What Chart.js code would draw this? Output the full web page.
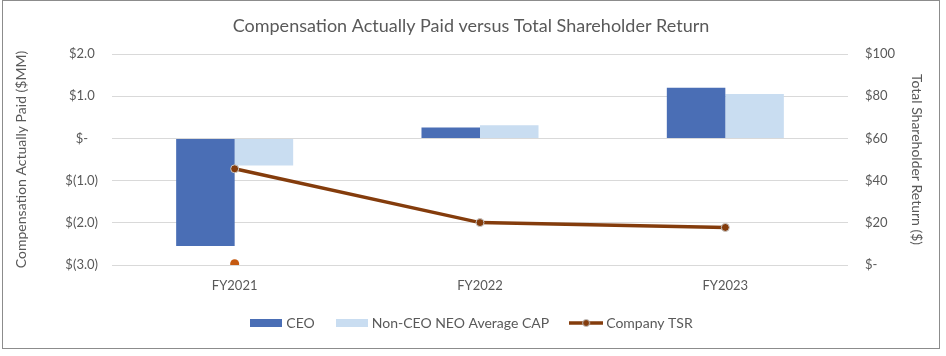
<!DOCTYPE html>
<html>
<head>
<meta charset="utf-8">
<script src="https://cdn.jsdelivr.net/npm/chart.js@4.4.1/dist/chart.umd.min.js"></script>
<style>
  html, body { margin: 0; padding: 0; background: #ffffff; }
  #wrap { position: relative; width: 946px; height: 356px; }
  #frame { position: absolute; left: 2px; top: 0px; width: 936px; height: 347px; border: 1px solid #8c8c8c; pointer-events: none; }
  canvas { position: absolute; left: 0; top: 0; }
</style>
</head>
<body>
<div id="wrap">
  <canvas id="c" width="946" height="356"></canvas>
  <div id="frame"></div>
</div>
<script>
const categories = ["FY2021", "FY2022", "FY2023"];
const ceoCap = [-2.55, 0.26, 1.20];
const nonCeoCap = [-0.64, 0.31, 1.05];
const companyTsr = [45.6, 20.1, 17.8];
const strayTsrPoint = [0.6, null, null];
const leftTicks = [2, 1, 0, -1, -2, -3];
const rightTicks = [100, 80, 60, 40, 20, 0];

const FONT = "Lato, 'Open Sans', sans-serif";
const TXT = "#595959";

function fmtLeft(v) {
  if (Math.abs(v) < 1e-9) return "$-   ";
  if (v < 0) return "$(" + Math.abs(v).toFixed(1) + ")";
  return "$" + v.toFixed(1) + " ";
}
function fmtRight(v) {
  if (Math.abs(v) < 1e-9) return "$-";
  return "$" + v.toFixed(0);
}

function boxImg(color) {
  const c = document.createElement("canvas");
  c.width = 32; c.height = 8;
  const x = c.getContext("2d");
  x.fillStyle = color; x.fillRect(0, 0, 32, 8);
  return c;
}
function lineImg() {
  const c = document.createElement("canvas");
  c.width = 34; c.height = 10;
  const x = c.getContext("2d");
  x.strokeStyle = "#843C0C"; x.lineWidth = 3.5;
  x.beginPath(); x.moveTo(0, 5); x.lineTo(34, 5); x.stroke();
  x.fillStyle = "#843C0C"; x.strokeStyle = "#bfbfbf"; x.lineWidth = 1;
  x.beginPath(); x.arc(17, 5, 3.5, 0, Math.PI * 2); x.fill(); x.stroke();
  return c;
}
const legendImgs = [boxImg("#4A6EB5"), boxImg("#C9DDF1"), lineImg()];

const titlePlugin = {
  id: "titleDraw",
  afterDraw(chart) {
    const ctx = chart.ctx;
    ctx.save();
    ctx.fillStyle = TXT;
    ctx.font = "18px " + FONT;
    ctx.textAlign = "center";
    ctx.textBaseline = "middle";
    ctx.fillText("Compensation Actually Paid versus Total Shareholder Return", 471, 26);
    ctx.restore();
  }
};

new Chart(document.getElementById("c"), {
  type: "bar",
  data: {
    labels: categories,
    datasets: [
      { label: "CEO", data: ceoCap, backgroundColor: "#4A6EB5", yAxisID: "y", order: 2,
        barPercentage: 1, categoryPercentage: 0.477 },
      { label: "Non-CEO NEO Average CAP", data: nonCeoCap, backgroundColor: "#C9DDF1", yAxisID: "y", order: 2,
        barPercentage: 1, categoryPercentage: 0.477 },
      { type: "line", label: "Company TSR", data: companyTsr, yAxisID: "y1", order: 0,
        borderColor: "#843C0C", borderWidth: 3.5, backgroundColor: "#843C0C",
        pointRadius: 4, pointBackgroundColor: "#843C0C", pointBorderColor: "#c8c8c8", pointBorderWidth: 1,
        tension: 0 },
      { type: "line", label: "stray", data: strayTsrPoint, yAxisID: "y1", order: 1, showLine: false,
        pointRadius: 4.5, pointBackgroundColor: "#C55A11", pointBorderColor: "#C55A11", pointBorderWidth: 0,
        borderColor: "#C55A11", backgroundColor: "#C55A11" }
    ]
  },
  options: {
    responsive: false,
    animation: false,
    devicePixelRatio: 1,
    layout: { padding: { top: 54, left: 0, right: 0, bottom: 16 } },
    plugins: {
      title: { display: false },
      tooltip: { enabled: false },
      legend: {
        position: "bottom",
        labels: {
          usePointStyle: true,
          pointStyleWidth: 26,
          padding: 24,
          color: TXT,
          font: { family: FONT, size: 14 },
          sort: (a, b) => a.datasetIndex - b.datasetIndex,
          filter: (item) => item.datasetIndex < 3,
          generateLabels(chart) {
            const items = Chart.defaults.plugins.legend.labels.generateLabels(chart);
            items.forEach(it => { if (it.datasetIndex < 3) it.pointStyle = legendImgs[it.datasetIndex]; });
            return items;
          }
        }
      }
    },
    scales: {
      x: {
        grid: { display: false },
        border: { display: false },
        ticks: { color: TXT, font: { family: FONT, size: 13 }, padding: 5 },
        afterFit(s) { s.height = 27; }
      },
      y: {
        position: "left",
        min: -3, max: 2,
        afterBuildTicks(s) { s.ticks = leftTicks.map(v => ({ value: v })); },
        ticks: { color: TXT, font: { family: FONT, size: 13 }, padding: 14, callback: fmtLeft },
        grid: { color: "#d9d9d9", drawTicks: false, lineWidth: 1 },
        border: { display: false },
        title: { display: true, text: "Compensation Actually Paid ($MM)", color: TXT,
                 font: { family: FONT, size: 14 }, padding: { top: 13, bottom: 0 } },
        afterFit(s) { s.width = 112; }
      },
      y1: {
        position: "right",
        min: 0, max: 100,
        afterBuildTicks(s) { s.ticks = rightTicks.map(v => ({ value: v })); },
        ticks: { color: TXT, font: { family: FONT, size: 13 }, padding: 17, callback: fmtRight },
        grid: { display: false, drawTicks: false },
        border: { display: false },
        title: { display: true, text: "Total Shareholder Return ($)", color: TXT,
                 font: { family: FONT, size: 14 }, padding: { top: 21, bottom: 0 } },
        afterFit(s) { s.width = 98; }
      }
    }
  },
  plugins: [titlePlugin]
});
</script>
</body>
</html>
